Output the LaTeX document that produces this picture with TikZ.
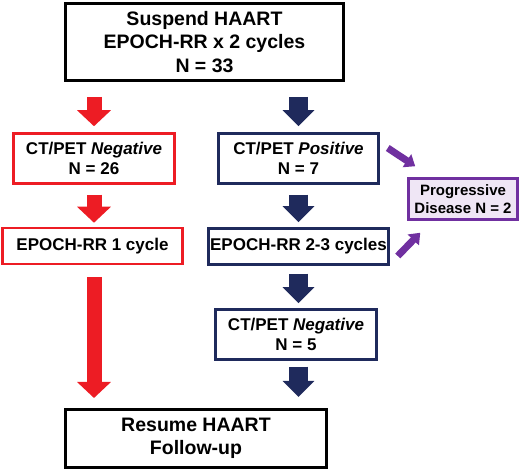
\documentclass[tikz,border=0pt]{standalone}
\usepackage{fontspec}
\setmainfont{Liberation Sans}
\usetikzlibrary{arrows.meta,calc}
\definecolor{arrred}{HTML}{ED1C24}
\definecolor{navy}{HTML}{1F2A5C}
\definecolor{purp}{HTML}{7030A0}
\definecolor{lav}{HTML}{EFE6F5}
\tikzset{
  % rutor
  box/.style={draw,line width=2.5pt,align=center,inner sep=0pt},
  bigbox/.style={box,draw=black,line width=3pt,
                 font=\fontsize{19.5}{23.5}\selectfont\bfseries},
  negbox/.style={box,draw=arrred,font=\fontsize{17}{19.5}\selectfont\bfseries},
  posbox/.style={box,draw=navy,font=\fontsize{17}{19.5}\selectfont\bfseries},
  progbox/.style={box,draw=purp,fill=lav,font=\fontsize{15}{18}\selectfont\bfseries},
  % pilar
  redarr/.style={draw=arrred,line width=15pt,-{Triangle[width=33pt,length=16pt]}},
  bluearr/.style={draw=navy,line width=19pt,-{Triangle[width=31pt,length=16pt]}},
  purarr/.style={draw=purp,line width=7pt,-{Triangle[width=15pt,length=10pt]}},
}
\begin{document}
\begin{tikzpicture}[x=1pt,y=-1pt]
  \useasboundingbox (0,0) rectangle (520,470);
  \node[bigbox,minimum width=278pt,minimum height=77pt] (top) at (204.5,42)
    {Suspend HAART\\EPOCH-RR x 2 cycles\\N = 33};
  \node[negbox,minimum width=161pt,minimum height=50pt] (neg) at (94,158.5)
    {CT/PET \textit{Negative}\\N = 26};
  \node[posbox,minimum width=160pt,minimum height=50pt] (pos) at (298.5,158.5)
    {CT/PET \textit{Positive}\\N = 7};
  \node[progbox,minimum width=109pt,minimum height=41pt] (prog) at (463,199)
    {Progressive\\Disease N = 2};
  \node[negbox,minimum width=180pt,minimum height=36pt] (one) at (92.5,246)
    {EPOCH-RR 1 cycle};
  \node[posbox,minimum width=180pt,minimum height=36pt] (more) at (298.5,246.5)
    {EPOCH-RR 2-3 cycles};
  \node[posbox,minimum width=161pt,minimum height=50pt] (negfive) at (296,334.5)
    {CT/PET \textit{Negative}\\N = 5};
  \node[bigbox,minimum width=261pt,minimum height=58pt] (resume) at (196,438.5)
    {Resume HAART\\Follow-up};

  \draw[redarr,shorten <=15pt,shorten >=6pt] (neg.north |- top.south) -- (neg.north);
  \draw[bluearr,shorten <=15pt,shorten >=6pt] (pos.north |- top.south) -- (pos.north);
  \draw[redarr,shorten <=10pt,shorten >=4pt] (neg.south) -- (neg.south |- one.north);
  \draw[bluearr,shorten <=10pt,shorten >=5pt] (pos.south) -- (pos.south |- more.north);
  \draw[redarr,shorten <=12pt,shorten >=10pt] (neg.south |- one.south) -- (neg.south |- resume.north);
  \draw[bluearr,shorten <=8pt,shorten >=5pt] (more.south) -- (more.south |- negfive.north);
  \draw[bluearr,shorten <=6pt,shorten >=11pt] (more.south |- negfive.south) -- (more.south |- resume.north);
  \draw[purarr] ([shift={(8,-10.5)}]pos.east) -- ([shift={(8,-11)}]prog.north west);
  \draw[purarr] ([shift={(8,9.5)}]more.east) -- ([shift={(13,12)}]prog.south west);
\end{tikzpicture}
\end{document}
